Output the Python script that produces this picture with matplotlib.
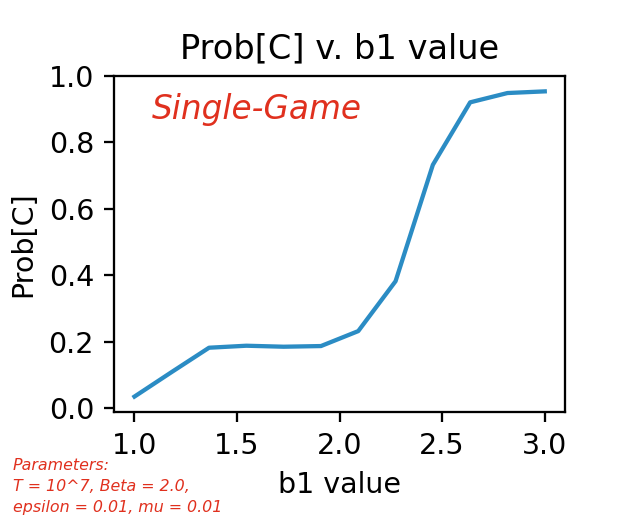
import numpy as np
import matplotlib
matplotlib.use("Agg")
import matplotlib.pyplot as plt

# data
b1_values = np.linspace(1.0, 3.0, 12)
prob_c = [0.035, 0.109, 0.182, 0.188, 0.185, 0.187,
          0.232, 0.382, 0.732, 0.920, 0.948, 0.953]

title = "Prob[C] v. b1 value"
tag = "Single-Game"
params = "Parameters:\nT = 10^7, Beta = 2.0,\nepsilon = 0.01, mu = 0.01"

DPI = 205
red = "#e0301e"
hand = dict(family=["DejaVu Sans"], style="oblique", color=red)

fig = plt.figure(figsize=(626 / DPI, 526 / DPI), dpi=DPI)
ax = fig.add_axes([0.182, 0.217, 0.721, 0.639])

ax.plot(b1_values, prob_c, color="#2b8cc4", lw=1.5)
ax.set_ylim(top=1.0)
ax.set_xticks([1.0, 1.5, 2.0, 2.5, 3.0])
ax.set_yticks([0.0, 0.2, 0.4, 0.6, 0.8, 1.0])

ax.set_title(title, fontsize=11.8)
ax.set_xlabel("b1 value", fontsize=10)
ax.set_ylabel("Prob[C]", fontsize=10)
ax.tick_params(labelsize=10)

ax.text(0.085, 0.9, tag, transform=ax.transAxes, fontsize=11.5,
        va="center", ha="left", **hand)
fig.text(0.02, 0.02, params, fontsize=5.6, va="bottom", ha="left",
         linespacing=1.5, **hand)

plt.savefig("out.png", dpi=DPI)
plt.close()
